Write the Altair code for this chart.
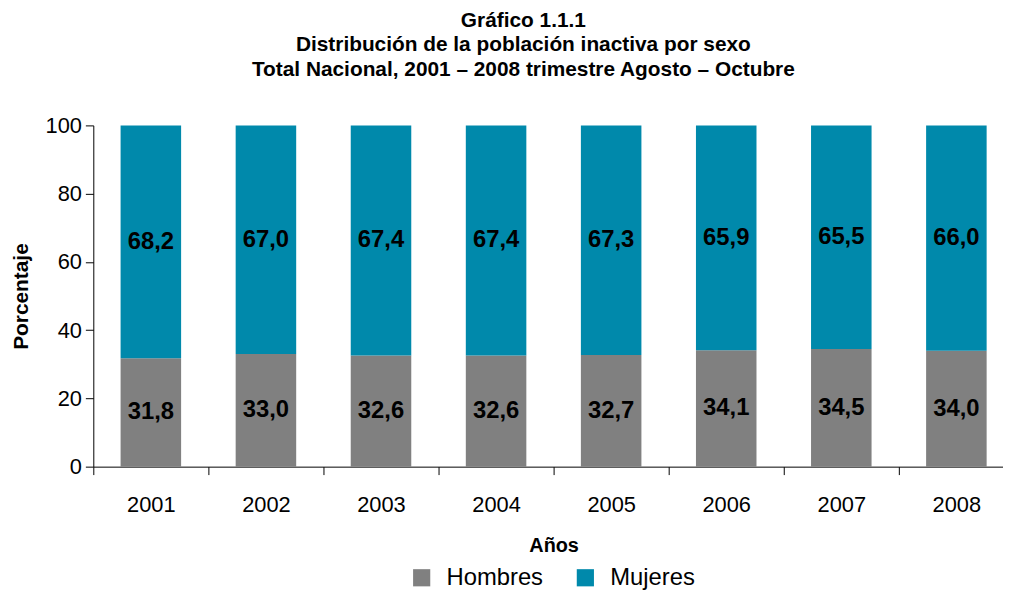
import altair as alt
import pandas as pd

years = ["2001", "2002", "2003", "2004", "2005", "2006", "2007", "2008"]
hombres = [31.8, 33.0, 32.6, 32.6, 32.7, 34.1, 34.5, 34.0]
mujeres = [68.2, 67.0, 67.4, 67.4, 67.3, 65.9, 65.5, 66.0]
series = ["Hombres", "Mujeres"]
colors = ["#808080", "#0089AB"]

rows = []
for i, y in enumerate(years):
    for k, (s, vals) in enumerate(zip(series, [hombres, mujeres])):
        v = vals[i]
        rows.append({"year": y, "serie": s, "value": v, "order": k,
                     "label": f"{v:.1f}".replace(".", ",")})
df = pd.DataFrame(rows)

FONT = "Liberation Sans"

x = alt.X("year:N", title="Años",
          scale=alt.Scale(paddingInner=0, paddingOuter=0, range=[0, 928]),
          axis=alt.Axis(labelAngle=0, tickBand="extent", tickSize=8, labelPadding=20,
                        titlePadding=21, labelFontSize=22, titleFontSize=20,
                        titleFontWeight="bold", domainColor="black", tickColor="black",
                        labelColor="black", titleColor="black", labelFont=FONT, titleFont=FONT))
y = alt.Y("value:Q", title="Porcentaje", stack="zero",
          scale=alt.Scale(domain=[0, 100], nice=False),
          axis=alt.Axis(values=[0, 20, 40, 60, 80, 100], grid=False, tickSize=8,
                        labelPadding=4, titlePadding=14, labelFontSize=22, titleFontSize=21,
                        titleFontWeight="bold", domainColor="black", tickColor="black",
                        labelColor="black", titleColor="black", labelFont=FONT, titleFont=FONT))

base = alt.Chart(df)

bars = base.mark_bar(width={"band": 0.526}).encode(
    x=x,
    y=y,
    color=alt.Color("serie:N", scale=alt.Scale(domain=series, range=colors),
                    legend=alt.Legend(title=None, orient="none", legendX=319, legendY=444,
                                      direction="horizontal",
                                      symbolType="square", symbolSize=300, symbolStrokeWidth=0,
                                      labelFontSize=24, labelFont=FONT, labelColor="black",
                                      labelOffset=13, columnPadding=30)),
    order=alt.Order("order:Q"),
)

texts = base.transform_stack(
    stack="value", as_=["y0", "y1"], groupby=["year"], sort=[alt.SortField("order")]
).transform_calculate(
    mid="(datum.y0 + datum.y1) / 2"
).mark_text(fontSize=24, fontWeight="bold", font=FONT, color="black").encode(
    x=alt.X("year:N"),
    y=alt.Y("mid:Q"),
    text="label:N",
)

chart = alt.layer(bars, texts).properties(
    width=917,
    height=344,
    autosize=alt.AutoSizeParams(type="none"),
    padding={"left": 86, "top": 116, "right": 0, "bottom": 123},
    title=alt.TitleParams(
        text=["Gráfico 1.1.1", "Distribución de la población inactiva por sexo",
              "Total Nacional, 2001 – 2008 trimestre Agosto – Octubre"],
        anchor="middle", fontSize=21, fontWeight="bold", font=FONT, color="black",
        lineHeight=24.5, offset=35, dx=-25),
).configure_view(stroke=None)

chart.save("out.html", embed_options={"renderer": "svg", "actions": False})
